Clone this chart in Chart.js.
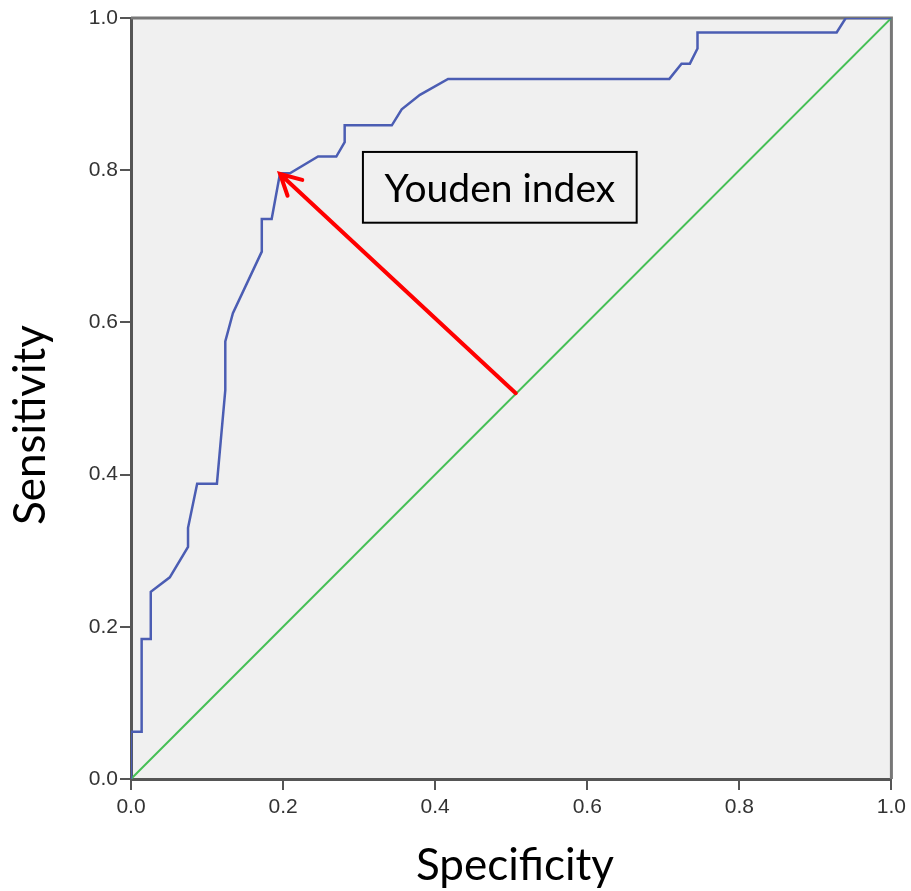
<!DOCTYPE html>
<html>
<head>
<meta charset="utf-8">
<script src="https://cdn.jsdelivr.net/npm/chart.js@4.4.1/dist/chart.umd.min.js"></script>
<style>
  body { margin: 0; background: #fff; }
  canvas { display: block; }
</style>
</head>
<body>
<canvas id="roc" width="911" height="891"></canvas>
<script>
// ROC curve
const rocX = [0, 0, 0.014, 0.014, 0.026, 0.026, 0.051, 0.075, 0.075, 0.087, 0.113, 0.124, 0.124,
  0.134, 0.172, 0.172, 0.185, 0.196, 0.209, 0.246, 0.270, 0.281, 0.281, 0.343, 0.356, 0.380,
  0.417, 0.708, 0.724, 0.735, 0.745, 0.745, 0.928, 0.940, 1.0];
const rocY = [0, 0.062, 0.062, 0.184, 0.184, 0.246, 0.265, 0.305, 0.330, 0.388, 0.388, 0.511, 0.575,
  0.612, 0.693, 0.736, 0.736, 0.796, 0.796, 0.818, 0.818, 0.837, 0.859, 0.859, 0.880, 0.899,
  0.920, 0.920, 0.940, 0.940, 0.960, 0.981, 0.981, 1.0, 1.0];
// reference (chance) line
const chanceX = [0, 1];
const chanceY = [0, 1];
const tickValues = [0, 0.2, 0.4, 0.6, 0.8, 1.0];

// annotation anchors, in data units
const arrowFrom = [0.506, 0.507];
const arrowTo = [0.196, 0.795];
const boxCorners = [0.305, 0.824, 0.665, 0.731];
const boxLabel = 'Youden index';
const yTitle = 'Sensitivity';
const xTitle = 'Specificity';

const toPoints = (xs, ys) => xs.map((v, i) => ({ x: v, y: ys[i] }));

const decor = {
  id: 'decor',
  beforeDraw(chart) {
    const { ctx, chartArea: a } = chart;
    ctx.save();
    ctx.fillStyle = '#f0f0f0';
    ctx.fillRect(a.left, a.top, a.right - a.left, a.bottom - a.top);
    ctx.restore();
  },
  beforeDatasetsDraw(chart) {
    const { ctx, chartArea: a } = chart;
    ctx.save();
    ctx.strokeStyle = '#777';
    ctx.lineWidth = 3;
    ctx.beginPath();
    ctx.moveTo(a.left, a.top);
    ctx.lineTo(a.right, a.top);
    ctx.lineTo(a.right, a.bottom);
    ctx.stroke();
    ctx.restore();
  },
  afterDatasetsDraw(chart) {
    const { ctx, scales: { x, y } } = chart;
    ctx.save();

    // label box
    const bx1 = x.getPixelForValue(boxCorners[0]);
    const by1 = y.getPixelForValue(boxCorners[1]);
    const bx2 = x.getPixelForValue(boxCorners[2]);
    const by2 = y.getPixelForValue(boxCorners[3]);
    ctx.fillStyle = '#f0f0f0';
    ctx.fillRect(bx1, by1, bx2 - bx1, by2 - by1);
    ctx.strokeStyle = '#000';
    ctx.lineWidth = 2;
    ctx.strokeRect(bx1, by1, bx2 - bx1, by2 - by1);
    ctx.fillStyle = '#000';
    ctx.font = '39px Lato';
    ctx.textAlign = 'center';
    ctx.textBaseline = 'alphabetic';
    ctx.fillText(boxLabel, (bx1 + bx2) / 2, by2 - 21);

    // arrow
    const tx = x.getPixelForValue(arrowFrom[0]);
    const ty = y.getPixelForValue(arrowFrom[1]);
    const hx = x.getPixelForValue(arrowTo[0]);
    const hy = y.getPixelForValue(arrowTo[1]);
    const back = Math.atan2(ty - hy, tx - hx);
    const arm = 23, spread = 28 * Math.PI / 180;
    ctx.strokeStyle = '#ff0000';
    ctx.lineWidth = 4;
    ctx.lineCap = 'round';
    ctx.beginPath();
    ctx.moveTo(tx, ty);
    ctx.lineTo(hx, hy);
    ctx.moveTo(hx + arm * Math.cos(back - spread), hy + arm * Math.sin(back - spread));
    ctx.lineTo(hx, hy);
    ctx.lineTo(hx + arm * Math.cos(back + spread), hy + arm * Math.sin(back + spread));
    ctx.stroke();
    ctx.restore();
  },
  afterDraw(chart) {
    // axis titles are a little off-centre in the source, so place them by hand
    const { ctx } = chart;
    ctx.save();
    ctx.fillStyle = '#000';
    ctx.font = '44px Lato';
    ctx.textAlign = 'center';
    ctx.textBaseline = 'alphabetic';
    ctx.fillText(xTitle, 515, 880);
    ctx.translate(31, 425);
    ctx.rotate(-Math.PI / 2);
    ctx.textBaseline = 'middle';
    ctx.fillText(yTitle, 0, 0);
    ctx.restore();
  }
};

const tickFont = { family: 'Liberation Sans', size: 21 };
const setTicks = s => { s.ticks = tickValues.map(v => ({ value: v })); };

new Chart(document.getElementById('roc'), {
  type: 'scatter',
  data: {
    datasets: [{
      data: toPoints(rocX, rocY),
      showLine: true,
      borderColor: '#4b5db3',
      borderWidth: 2.5,
      pointRadius: 0,
      tension: 0
    }, {
      data: toPoints(chanceX, chanceY),
      showLine: true,
      borderColor: '#45bf55',
      borderWidth: 2,
      pointRadius: 0
    }]
  },
  options: {
    responsive: false,
    animation: false,
    layout: { padding: { top: 18, right: 19, left: 0, bottom: 0 } },
    plugins: { legend: { display: false }, tooltip: { enabled: false } },
    scales: {
      x: {
        type: 'linear', min: 0, max: 1,
        afterBuildTicks: setTicks,
        afterFit: s => { s.height = 112; },
        ticks: { font: tickFont, color: '#333', padding: 5, maxRotation: 0, callback: v => v.toFixed(1) },
        grid: { drawOnChartArea: false, tickLength: 11, color: '#555', lineWidth: 2 },
        border: { color: '#555', width: 3 },
        title: { display: false }
      },
      y: {
        type: 'linear', min: 0, max: 1,
        afterBuildTicks: setTicks,
        afterFit: s => { s.width = 131; },
        ticks: { font: tickFont, color: '#333', padding: 2, callback: v => v.toFixed(1) },
        grid: { drawOnChartArea: false, tickLength: 11, color: '#555', lineWidth: 2 },
        border: { color: '#555', width: 3 },
        title: { display: false }
      }
    }
  },
  plugins: [decor]
});
</script>
</body>
</html>
